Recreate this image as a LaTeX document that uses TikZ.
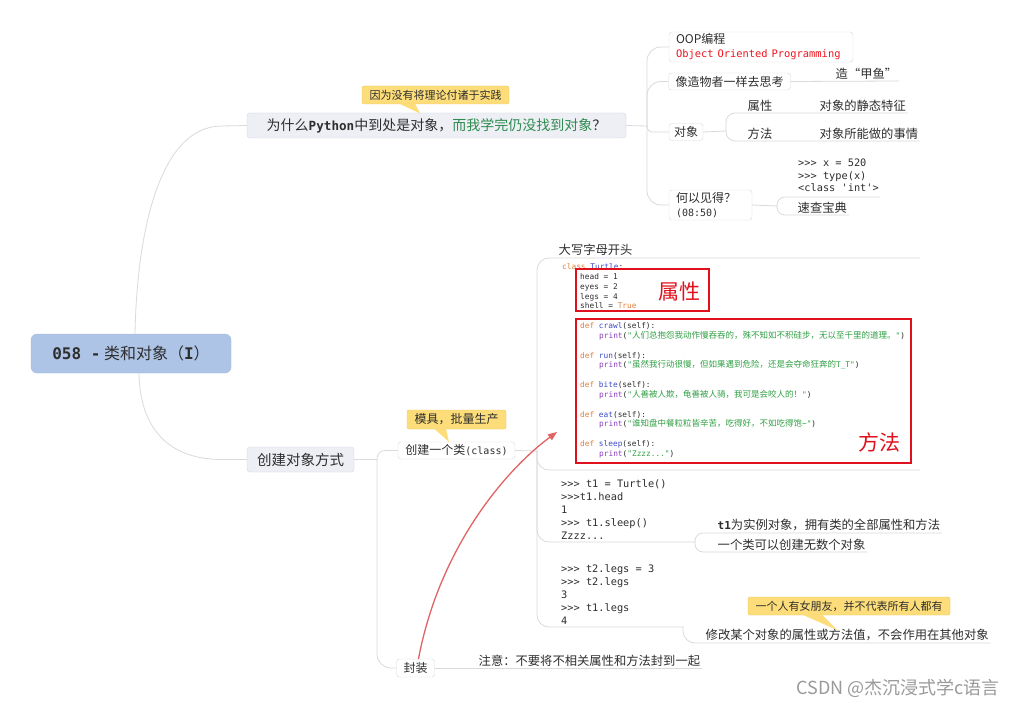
\documentclass[tikz,border=0pt]{standalone}
\usepackage{fontspec}
\setmainfont{Noto Sans CJK SC}
\setmonofont{DejaVu Sans Mono}
\newfontfamily\cjkfont{Noto Sans CJK SC}
\usepackage{tikz}
\usetikzlibrary{arrows.meta}
\usepackage{xcolor}

\definecolor{ink}{HTML}{2E2E2E}
\definecolor{linegray}{HTML}{DADADA}
\definecolor{rootblue}{HTML}{AEC4E6}
\definecolor{rootedge}{HTML}{A3BADF}
\definecolor{majorfill}{HTML}{EDEFF5}
\definecolor{majoredge}{HTML}{D4D7E0}
\definecolor{boxedge}{HTML}{D9D9D9}
\definecolor{tipfill}{HTML}{FCDD7A}
\definecolor{tipedge}{HTML}{F0C95C}
\definecolor{titlegreen}{HTML}{2E8B4F}
\definecolor{oopred}{HTML}{F0141E}
\definecolor{boxred}{HTML}{E0101C}
\definecolor{kworange}{HTML}{E2803F}
\definecolor{fnblue}{HTML}{3C4BCB}
\definecolor{prpurple}{HTML}{8E3BBF}
\definecolor{strgreen}{HTML}{2FA043}
\definecolor{arrowred}{HTML}{E06464}
\definecolor{markgray}{HTML}{9A9A9A}

\newcommand\fsize[1]{\fontsize{#1}{#1}\selectfont}
\newcommand\ckw[1]{\textcolor{kworange}{#1}}
\newcommand\cfn[1]{\textcolor{fnblue}{#1}}
\newcommand\cpr[1]{\textcolor{prpurple}{#1}}
\newcommand\cst[1]{\textcolor{strgreen}{#1}}
\newcommand\czh[1]{{\cjkfont\fontsize{8.5}{9}\selectfont#1}}

\begin{document}
\begin{tikzpicture}[x=1pt,y=-1pt,line cap=round,
  conn/.style={draw=linegray,line width=0.8pt},
  root/.style={fill=rootblue,draw=rootedge,rounded corners=6pt,minimum width=200,minimum height=39,font=\fsize{16},text=ink},
  major/.style={fill=majorfill,draw=majoredge,rounded corners=3pt,minimum height=25,font=\fsize{14},text=ink},
  topic/.style={fill=white,draw=boxedge,rounded corners=3pt,minimum height=17,inner xsep=7pt,inner ysep=1.5pt,font=\fontsize{12}{14}\selectfont,text=ink},
  leaf/.style={anchor=south west,inner sep=1.5pt,font=\fsize{12.3},text=ink},
  tip/.style={fill=tipfill,draw=tipedge,rounded corners=2pt,minimum height=18,inner sep=2pt,font=\fsize{11},text=ink},
  pointer/.style={fill=tipfill},
  code/.style={anchor=base west,inner sep=0pt,font=\ttfamily\fsize{10.3},text=ink},
  img/.style={anchor=base west,inner sep=0pt,font=\ttfamily\fsize{7.8},text=ink},
  redbox/.style={draw=boxred,line width=1.8pt},
  redlabel/.style={inner sep=0pt,font=\fsize{21},text=boxred}]
\fill[white] (0,0) rectangle (1024,708);
\useasboundingbox (0,0) rectangle (1024,708);

\node[root] (root) at (131,353.5) {{\ttfamily\bfseries 058 -} 类和对象（{\ttfamily\bfseries I}）};
\node[major,minimum width=379] (why) at (436.5,125.5) {为什么{\ttfamily\bfseries\fsize{12.6}Python}中到处是对象，\textcolor{titlegreen}{而我学完仍没找到对象}？};
\node[major,minimum width=107,font=\fsize{14.5}] (make) at (300.5,459.5) {创建对象方式};

\coordinate (r1) at (222,126);
\coordinate (r2) at (222,459.5);
\draw[conn] ([xshift=4pt]root.north) .. controls (137,230) and (160,126) .. (r1) -- (why.west);
\draw[conn] ([xshift=8pt]root.south) .. controls (140,430) and (170,459.5) .. (r2) -- (make.west);

\node[tip,minimum width=147] (tipwhy) at (435.5,95) {因为没有将理论付诸于实践};
\fill[pointer] (399,103.5) -- (420,113.5) -- (415,103.5) -- cycle;

\node[topic,text width=170,align=left,minimum height=30,inner xsep=7pt] (oop) at (761,47) {OOP编程\\\textcolor{oopred}{\ttfamily\fsize{10.4}Object Oriented Programming}};
\node[topic,minimum width=121] (think) at (729.5,81.5) {像造物者一样去思考};
\node[topic,minimum width=34,inner xsep=4pt] (obj) at (686,132) {对象};
\node[topic,text width=69,align=left,minimum height=30] (how) at (710.5,205) {何以见得？\\{\ttfamily\fsize{10}(08:50)}};

\coordinate (wj) at (647,126);
\draw[conn] (why.east) -- (wj);
\draw[conn,rounded corners=14pt] (wj) |- (oop.west);
\draw[conn,rounded corners=14pt] (wj) |- (think.west);
\draw[conn,rounded corners=5pt] (wj) |- (obj.west);
\draw[conn,rounded corners=14pt] (wj) |- (how.west);

\node[leaf] (fish) at (834,81) {造“甲鱼”};
\draw[conn] (think.east) -- (fish.south east);

\node[leaf] (prop) at (746,113) {属性};
\node[leaf] (propd) at (818,113) {对象的静态特征};
\node[leaf] (meth) at (746,141) {方法};
\node[leaf] (methd) at (818,141) {对象所能做的事情};
\coordinate (oj) at (726,131);
\draw[conn] (obj.east) -- (oj);
\draw[conn,rounded corners=9pt] (oj) |- (propd.south east);
\draw[conn,rounded corners=9pt] (oj) |- (methd.south east);

\node[code] (hc1) at (798,167) {>>> x = 520};
\node[code] (hc2) at (798,179.5) {>>> type(x)};
\node[code] (hc3) at (798,192) {<class 'int'>};
\node[leaf] (lookup) at (796,215) {速查宝典};
\coordinate (lj) at (777,206);
\coordinate (hctop) at (880,197);
\draw[conn] (how.east) -- (lj);
\draw[conn,rounded corners=8pt] (lj) |- (hctop);
\draw[conn,rounded corners=8pt] (lj) |- (lookup.south east);

\node[topic,minimum width=117] (cls) at (456.5,450.5) {创建一个类{\ttfamily\fsize{10}(class)}};
\node[topic,minimum width=35,minimum height=18] (pack) at (415.5,668) {封装};
\coordinate (mj) at (377,459.5);
\draw[conn] (make.east) -- (mj);
\draw[conn,rounded corners=8pt] (mj) |- (cls.west);
\draw[conn,rounded corners=14pt] (mj) |- (pack.west);

\node[tip,minimum width=99,minimum height=19,font=\fsize{12}] (tipcls) at (456.5,419.5) {模具，批量生产};
\fill[pointer] (434,428.5) -- (449,442) -- (446,428.5) -- cycle;

\node[leaf] (note) at (477,668) {注意：不要将不相关属性和方法封到一起};
\draw[conn] (pack.east) -- (note.south east);

\node[leaf] (upper) at (557,257) {大写字母开头};
\coordinate (cj) at (537,451);
\coordinate (imgtr) at (920,258);
\coordinate (imgbr) at (920,470);
\coordinate (t1e) at (695,542);
\coordinate (t2e) at (683,627);
\draw[conn] (cls.east) -- (cj);
\draw[conn,rounded corners=12pt] (cj) |- (imgtr);
\draw[conn,rounded corners=12pt] (cj) |- (imgbr);
\draw[conn,rounded corners=12pt] (cj) |- (t1e);
\draw[conn,rounded corners=12pt] (cj) |- (t2e);

\node[img] (ic1) at (562,269.8) {\ckw{class} \cfn{Turtle}:};
\node[img] (ic2) at (580,279.8) {head = 1};
\node[img] (ic3) at (580,289.8) {eyes = 2};
\node[img] (ic4) at (580,299.5) {legs = 4};
\node[img] (ic5) at (580,308.8) {shell = \ckw{True}};
\node[img] (ic6) at (580,328.8) {\ckw{def} \cfn{crawl}(self):};
\node[img] (ic7) at (599,338.8) {\cpr{print}(\cst{"\czh{人们总抱怨我动作慢吞吞的，殊不知如不积硅步，无以至千里的道理。}"})};
\node[img] (ic8) at (580,358.8) {\ckw{def} \cfn{run}(self):};
\node[img] (ic9) at (599,367.8) {\cpr{print}(\cst{"\czh{虽然我行动很慢，但如果遇到危险，还是会夺命狂奔的}T\_T"})};
\node[img] (ic10) at (580,387.8) {\ckw{def} \cfn{bite}(self):};
\node[img] (ic11) at (599,397.8) {\cpr{print}(\cst{"\czh{人善被人欺，龟善被人骑，我可是会咬人的！}"})};
\node[img] (ic12) at (580,417.8) {\ckw{def} \cfn{eat}(self):};
\node[img] (ic13) at (599,426.8) {\cpr{print}(\cst{"\czh{谁知盘中餐粒粒皆辛苦，吃得好，不如吃得饱}\textasciitilde"})};
\node[img] (ic14) at (580,446.8) {\ckw{def} \cfn{sleep}(self):};
\node[img] (ic15) at (599,456.8) {\cpr{print}(\cst{"Zzzz..."})};
\draw[redbox] (576,269) rectangle (709,311);
\draw[redbox] (576,319) rectangle (911,463);
\node[redlabel] (attrlab) at (679.5,292) {属性};
\node[redlabel] (methlab) at (879,442) {方法};

\node[code] (ta1) at (561,487) {>>> t1 = Turtle()};
\node[code] (ta2) at (561,500) {>>>t1.head};
\node[code] (ta3) at (561,513) {1};
\node[code] (ta4) at (561,526) {>>> t1.sleep()};
\node[code] (ta5) at (561,539.5) {Zzzz...};
\node[leaf] (insta) at (716,533) {{\ttfamily\bfseries\fsize{11}t1}为实例对象，拥有类的全部属性和方法};
\node[leaf] (instb) at (716,552) {一个类可以创建无数个对象};
\draw[conn,rounded corners=8pt] (t1e) |- (insta.south east);
\draw[conn,rounded corners=8pt] (t1e) |- (instb.south east);

\node[code] (tb1) at (561,572) {>>> t2.legs = 3};
\node[code] (tb2) at (561,585) {>>> t2.legs};
\node[code] (tb3) at (561,598) {3};
\node[code] (tb4) at (561,611.5) {>>> t1.legs};
\node[code] (tb5) at (561,624.5) {4};
\node[leaf] (mod) at (704,643) {修改某个对象的属性或方法值，不会作用在其他对象};
\draw[conn,rounded corners=12pt] (t2e) |- (mod.south east);

\node[tip,minimum width=202] (tipmod) at (849,606) {一个人有女朋友，并不代表所有人都有};
\fill[pointer] (802,614.5) -- (837,630) -- (822,614.5) -- cycle;

\coordinate (arrowtip) at (557,432);
\draw[arrowred,line width=1.3pt,-{Triangle[length=9pt,width=7pt]}] ([xshift=3pt]pack.north) .. controls (440,545) and (508,468) .. (arrowtip);

\node[inner sep=0pt,font=\fsize{18},text=markgray] (mark) at (898,688) {CSDN @杰沉浸式学c语言};
\end{tikzpicture}
\end{document}
